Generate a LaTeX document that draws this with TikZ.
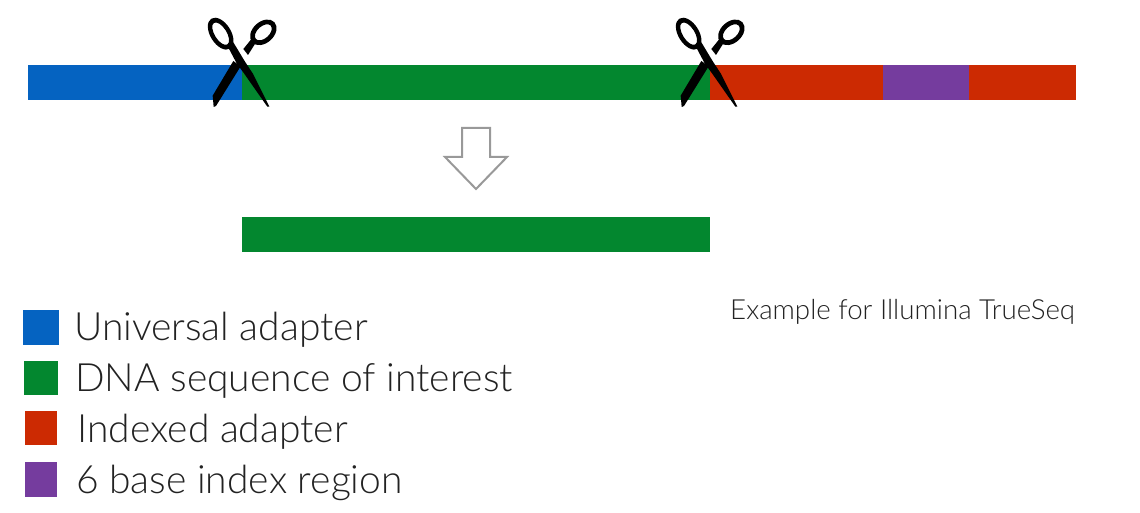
\documentclass[tikz,border=0pt]{standalone}
\usepackage{fontspec}
\setmainfont{Lato}[UprightFont=* Light]
\definecolor{cblue}{HTML}{0563C1}
\definecolor{cgreen}{HTML}{03872F}
\definecolor{cred}{HTML}{CC2A02}
\definecolor{cpurple}{HTML}{753C9E}
\definecolor{ctext}{HTML}{222222}
\tikzset{
  legendtext/.style={anchor=base west,inner sep=0pt,text=ctext,font=\fontsize{39}{44}\selectfont},
  pics/shears/.style={code={
    \begin{scope}[x=1pt/3,y=-1pt/3]
      \fill[black,even odd rule,rotate around={-58:(92,86)}]
        (92,86) ellipse [x radius=53,y radius=31]
        (92,86) ellipse [x radius=38,y radius=18];
      \fill[black,even odd rule,rotate around={42:(220,82)}]
        (220,82) ellipse [x radius=45,y radius=32]
        (220,82) ellipse [x radius=30,y radius=18];
      \fill[black]
        (112,122) -- (130,112) -- (165,170) -- (188,205) -- (238,305) -- (232,305)
        -- (162,205) -- (140,175) -- cycle;
      \fill[black]
        (160,132) -- (186,100) -- (198,112) -- (174,150) -- cycle;
      \fill[black]
        (130,168) -- (152,184) -- (78,303) -- (71,306) -- (68,272) -- cycle;
    \end{scope}
  }}
}
\begin{document}
\begin{tikzpicture}[x=1pt,y=-1pt]
\useasboundingbox (0,0) rectangle (1140,513);
\fill[cblue] (28,65) rectangle (242,100);
\fill[cgreen] (242,65) rectangle (710,100);
\fill[cred] (710,65) rectangle (883,100);
\fill[cpurple] (883,65) rectangle (969,100);
\fill[cred] (969,65) rectangle (1076,100);
\pic (cutA) at (190,5) {shears};
\pic (cutB) at (658,5) {shears};
\draw[color=gray!80,line width=2pt,fill=white,line join=miter]
  (462,128) -- (490,128) -- (490,157) -- (507,157) -- (476,189) -- (445,157) -- (462,157) -- cycle;
\fill[cgreen] (242,217) rectangle (710,252);
\fill[cblue] (23,310) rectangle (59,345);
\fill[cgreen] (24,361) rectangle (58,395);
\fill[cred] (25,411) rectangle (57,445);
\fill[cpurple] (25,462) rectangle (57,497);
\node[legendtext] (l1) at (74,340.5) {Universal adapter};
\node[legendtext] (l2) at (75,391.5) {DNA sequence of interest};
\node[legendtext] (l3) at (77,442.5) {Indexed adapter};
\node[legendtext] (l4) at (76,493.5) {6 base index region};
\node[legendtext,font=\fontsize{27.7}{32}\selectfont] (ex) at (730,319) {Example for Illumina TrueSeq};
\end{tikzpicture}
\end{document}
